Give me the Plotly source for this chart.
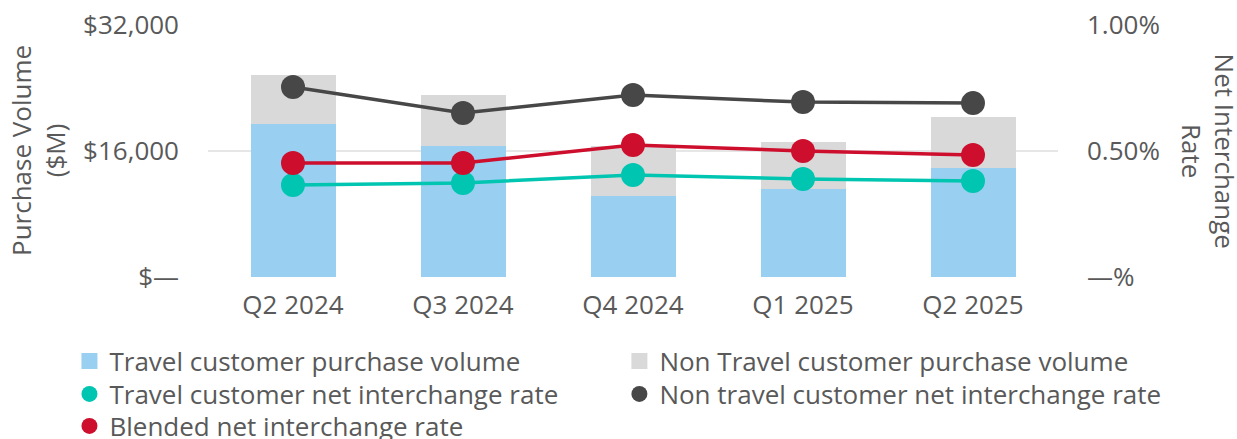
import plotly.graph_objects as go

quarters = ["Q2 2024", "Q3 2024", "Q4 2024", "Q1 2025", "Q2 2025"]
travel_volume = [19430, 16640, 10290, 11180, 13840]
non_travel_volume = [6220, 6470, 6350, 5970, 6480]
travel_rate = [0.00365, 0.00373, 0.00405, 0.00389, 0.00381]
non_travel_rate = [0.00754, 0.00651, 0.00722, 0.00694, 0.00690]
blended_rate = [0.00452, 0.00452, 0.00524, 0.00500, 0.00484]

left_ticks = [0, 16000, 32000]
left_ticktext = ["$—", "$16,000", "$32,000"]
right_ticks = [0, 0.005, 0.01]
right_ticktext = ["—%", "0.50%", "1.00%"]

FONT = "Open Sans"
TXT = "#595959"
FS = 26

C_TRAVEL_BAR = "#99CFF0"
C_NON_BAR = "#D9D9D9"
C_TEAL = "#00C5B0"
C_DARK = "#474747"
C_RED = "#CE0E2D"

fig = go.Figure()
fig.add_trace(go.Bar(x=quarters, y=travel_volume, name="Travel customer purchase volume",
                     marker=dict(color=C_TRAVEL_BAR, line=dict(width=0)), width=0.5,
                     showlegend=False))
fig.add_trace(go.Bar(x=quarters, y=non_travel_volume, name="Non Travel customer purchase volume",
                     marker=dict(color=C_NON_BAR, line=dict(width=0)), width=0.5,
                     showlegend=False))

line_series = [
    ("Travel customer net interchange rate", travel_rate, C_TEAL),
    ("Non travel customer net interchange rate", non_travel_rate, C_DARK),
    ("Blended net interchange rate", blended_rate, C_RED),
]
for name, vals, col in line_series:
    fig.add_trace(go.Scatter(x=quarters, y=vals, name=name, yaxis="y2", mode="lines+markers",
                             line=dict(color=col, width=3.5), marker=dict(size=24, color=col),
                             showlegend=False))

# legend entries, one legend per slot (2 columns x 3 rows as in the reference)
legend_entries = [
    ("Travel customer purchase volume", C_TRAVEL_BAR, "square", "legend"),
    ("Non Travel customer purchase volume", C_NON_BAR, "square", "legend2"),
    ("Travel customer net interchange rate", C_TEAL, "circle", "legend3"),
    ("Non travel customer net interchange rate", C_DARK, "circle", "legend4"),
    ("Blended net interchange rate", C_RED, "circle", "legend5"),
]
for name, col, sym, lg in legend_entries:
    fig.add_trace(go.Scatter(x=[None], y=[None], name=name, mode="markers",
                             marker=dict(size=24, color=col, symbol=sym), legend=lg,
                             showlegend=True))

legend_common = dict(orientation="v", yanchor="top", xanchor="left", font=dict(size=FS, color=TXT),
                     tracegroupgap=0, itemwidth=30, bgcolor="rgba(0,0,0,0)")
col_x = [-0.163, 0.484]
row_y = [-0.24, -0.371, -0.498]

fig.update_layout(
    width=1237, height=439,
    barmode="stack",
    plot_bgcolor="white", paper_bgcolor="white",
    font=dict(family=FONT, size=FS, color=TXT),
    margin=dict(l=208, r=179, t=25, b=162, autoexpand=False),
    xaxis=dict(showgrid=False, showline=False, ticks="", tickfont=dict(size=FS, color=TXT),
               ticklabelstandoff=10),
    yaxis=dict(range=[0, 32000], tickvals=left_ticks, ticktext=left_ticktext,
               showgrid=True, gridcolor="#E6E6E6", gridwidth=2, zeroline=False,
               showline=False, ticks="", ticklabelstandoff=28, tickfont=dict(size=FS, color=TXT)),
    yaxis2=dict(range=[0, 0.01], tickvals=right_ticks, ticktext=right_ticktext,
                overlaying="y", side="right", showgrid=False, zeroline=False,
                showline=False, ticks="", ticklabelstandoff=28, tickfont=dict(size=FS, color=TXT)),
    legend=dict(x=col_x[0], y=row_y[0], **legend_common),
    legend2=dict(x=col_x[1], y=row_y[0], **legend_common),
    legend3=dict(x=col_x[0], y=row_y[1], **legend_common),
    legend4=dict(x=col_x[1], y=row_y[1], **legend_common),
    legend5=dict(x=col_x[0], y=row_y[2], **legend_common),
    showlegend=True,
    annotations=[
        dict(text="Purchase Volume<br>($M)", xref="paper", yref="paper", x=-0.200, y=0.5,
             xanchor="center", yanchor="middle", textangle=-90, showarrow=False,
             font=dict(size=FS, color=TXT, family=FONT)),
        dict(text="Net Interchange<br>Rate", xref="paper", yref="paper", x=1.177, y=0.5,
             xanchor="center", yanchor="middle", textangle=90, showarrow=False,
             font=dict(size=FS, color=TXT, family=FONT)),
    ],
)

fig.write_html("out.html", config={"displayModeBar": False},
               post_script="document.body.style.margin='0';document.body.style.overflow='hidden';")
